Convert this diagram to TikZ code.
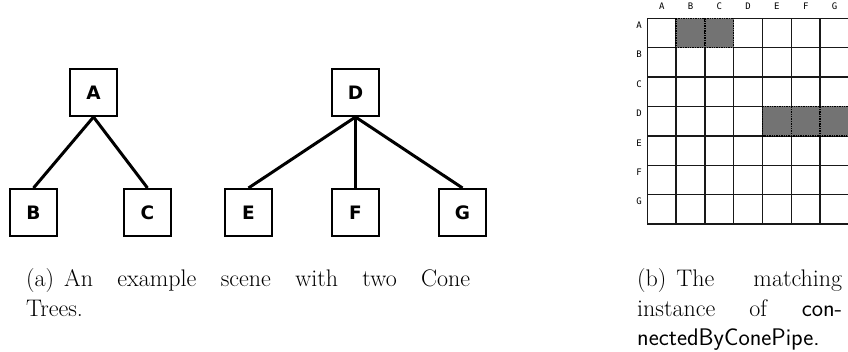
\documentclass[tikz,border=0pt]{standalone}
\usepackage{fontspec}
\newfontfamily\boxfont{DejaVu Sans}
\newfontfamily\gridfont{DejaVu Sans Mono}
\usetikzlibrary{calc}

\tikzset{
  x=1pt, y=-1pt,
  conebox/.style={draw, line width=2pt, minimum size=47pt, inner sep=0pt,
    font=\boxfont\bfseries\fontsize{18.5}{18.5}\selectfont},
  conepipe/.style={line width=3pt},
  gridline/.style={line width=1.4pt, draw=black!90},
  shadecell/.style={fill=black!55, draw=black, densely dotted, line width=1.4pt},
  gridlabel/.style={font=\gridfont\fontsize{9}{9}\selectfont, inner sep=0pt},
  caption/.style={inner sep=0pt, align=justify, anchor=base west,
    font=\fontsize{24}{29.5}\selectfont}
}

% one box of a cone tree, and the pipe from a parent down to a child
\newcommand{\coneBox}[2]{
    \node[conebox] (#1) at #2 {#1};
}
\newcommand{\connectCT}[2]{
    \draw[conepipe] (#1.south) -- (#2.north);
}
% fixed gap after a sub-caption label
\newcommand{\labelgap}{\hskip 10pt\relax}

% matrix cells: origin, width and height
\newcommand{\gx}{647.3}
\newcommand{\gy}{18.3}
\newcommand{\gw}{28.8}
\newcommand{\gh}{29.4}

\begin{document}
\begin{tikzpicture}
    \useasboundingbox (0,0) rectangle (848,352);

    % first cone tree
    \coneBox{A}{(93.5,92.5)}
    \coneBox{B}{(33.5,212.5)}
    \coneBox{C}{(147.5,212.5)}
    \connectCT{A}{B}
    \connectCT{A}{C}

    % second cone tree
    \coneBox{D}{(355.5,92.5)}
    \coneBox{E}{(248.5,212.5)}
    \coneBox{F}{(355.5,212.5)}
    \coneBox{G}{(462.5,212.5)}
    \connectCT{D}{E}
    \connectCT{D}{F}
    \connectCT{D}{G}

    % the 7x7 matrix
    \foreach \i in {0,...,7} {
        \draw[gridline] (\gx+\i*\gw,\gy) -- (\gx+\i*\gw,\gy+7*\gh);
        \draw[gridline] (\gx,\gy+\i*\gh) -- (\gx+7*\gw,\gy+\i*\gh);
    }
    \foreach \c/\r in {1/0,2/0,4/3,5/3,6/3}
        \draw[shadecell] (\gx+\c*\gw,\gy+\r*\gh) rectangle ++(\gw,\gh);
    \foreach \l [count=\i from 0] in {A,B,C,D,E,F,G} {
        \node[gridlabel] (col\l) at (\gx+\i*\gw+0.5*\gw,6) {\l};
        \node[gridlabel] (row\l) at (639,\gy+\i*\gh+7) {\l};
    }

    % sub-captions
    \node[caption, text width=444pt] (capA) at (26,287)
        {(a)\labelgap An example scene with two Cone\linebreak Trees.};
    \node[caption, text width=205pt] (capB) at (637,287)
        {(b)\labelgap The matching\linebreak instance of \textsf{con-}\linebreak\textsf{nectedByConePipe.}};
\end{tikzpicture}
\end{document}
